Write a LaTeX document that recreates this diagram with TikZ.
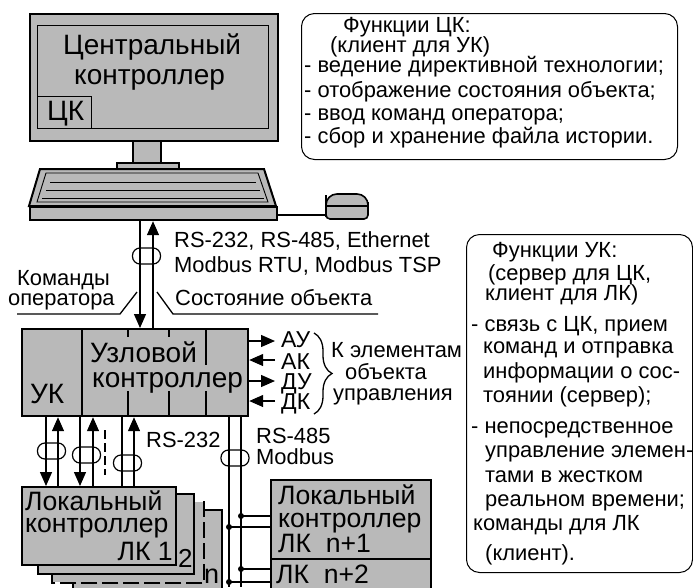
\documentclass[tikz,border=0pt]{standalone}
\usepackage{fontspec}
\setmainfont{Liberation Sans}
\usetikzlibrary{
	arrows.meta,
	calc,
	decorations.pathreplacing
}

\begin{document}
\begin{tikzpicture}[
			x=1pt,y=-1pt,
			gbox/.style={
				rectangle,
				draw,
				line width=2.2pt,
				fill=gray!55,
				inner sep=0pt,
				anchor=north west
			},
			stadium/.style={
				rectangle,
				draw,
				rounded corners=7.5pt,
				line width=1.2pt,
				minimum width=28pt,
				minimum height=16pt,
				inner sep=0pt
			},
			funcbox/.style={
				rectangle,
				draw,
				rounded corners=13pt,
				line width=1pt,
				inner sep=0pt,
				anchor=north west
			},
			big/.style={
				anchor=base west,
				inner sep=0pt,
				font=\fontsize{28pt}{30pt}\selectfont
			},
			lkfont/.style={
				big,
				font=\fontsize{26.6pt}{30pt}\selectfont
			},
			med/.style={
				anchor=base west,
				inner sep=0pt,
				font=\fontsize{21.9pt}{24pt}\selectfont
			},
			wire/.style={
				line width=1.3pt
			},
			arr/.style={
				line width=1.3pt,
				-{Triangle[length=14pt,width=12pt]}
			}
			]
			\useasboundingbox (0,0) rectangle (693,587);
			
			% monitor
			\node[gbox,minimum width=248pt,minimum height=127pt] (mon) at (29,13) {};
			\node[gbox,minimum width=231pt,minimum height=103pt,line width=1.3pt] (scr) at (37,25) {};
			\node[gbox,minimum width=54pt,minimum height=32pt,line width=1.3pt] (ck) at (37,96) {};
			\node[gbox,minimum width=28pt,minimum height=22pt,line width=1.6pt] (neck) at (132,140) {};
			\node[gbox,minimum width=62pt,minimum height=7pt,line width=1.6pt] (base) at (116,162) {};
			\node[big] (ctr1) at (63,54) {Центральный};
			\node[big] (ctr2) at (74,84) {контроллер};
			\node[big] (cklab) at (47,120) {ЦК};
			
			% keyboard
			\draw[line width=2pt,fill=gray!55] (29,206) -- (40,169) -- (264,169) -- (276,206) -- cycle;
			\draw[line width=0.9pt] (37,202) -- (46,173) -- (258,173) -- (268,202) -- cycle;
			\foreach \y/\xa/\xb in {182/50/256,190/46/260,198/42/264}
				\draw[line width=0.9pt] (\xa,\y) -- (\xb,\y);
			\node[gbox,minimum width=247pt,minimum height=13pt] (kbd) at (29,206) {};
			
			% mouse
			\coordinate (mp) at (326,215);
			\draw[line width=1.6pt,fill=gray!55] [rounded corners=4pt] (326,206) -- (326,219) -- (368,219) -- (368,206)
				[rounded corners=11pt] -- (368,194) -- (326,194) -- cycle;
			\draw[wire] (326,206) -- (368,206);
			\draw[wire] (kbd.east |- mp) -- (mp);
			
			% RS-232 etc
			\coordinate (cmd) at (140,0);
			\coordinate (sta) at (153,0);
			\node[gbox,minimum width=226pt,minimum height=87pt] (uk) at (21,328) {};
			\draw[arr] (kbd.south -| cmd) -- (uk.north -| cmd);
			\draw[arr] (uk.north -| sta) -- (kbd.south -| sta);
			\node[stadium] (st1) at (146.5,256) {};
			\node[med] (rs1) at (174,247) {RS-232, RS-485, Ethernet};
			\node[med] (rs2) at (174,272) {Modbus RTU, Modbus TSP};
			\node[med] (cmd1) at (17,285) {Команды};
			\node[med] (cmd2) at (8,305) {оператора};
			\node[med] (sta1) at (175,305) {Состояние объекта};
			\coordinate (c1) at (17,314);
			\coordinate (c2) at (120,314);
			\coordinate (c3) at (137,292);
			\coordinate (s1) at (157,292);
			\coordinate (s2) at (173,314);
			\coordinate (s3) at (378,314);
			\draw[wire] (c1) -- (c2) -- (c3);
			\draw[wire] (s1) -- (s2) -- (s3);
			
			% node controller
			\draw[wire] (82,328) -- (82,415);
			\foreach \x in {128,169,206}
				\draw[wire] (\x,328) -- (\x,337) (\x,391) -- (\x,415);
			\draw[wire] (206,337) -- (206,365);
			\node[big] (uz1) at (90,362) {Узловой};
			\node[big] (uz2) at (92,387) {контроллер};
			\node[big] (uklab) at (30,403) {УК};
			
			% signals
			\coordinate (ay) at (275,341);
			\coordinate (ak) at (275,360);
			\coordinate (dy) at (275,381);
			\coordinate (dk) at (275,401);
			\draw[arr] (uk.east |- ay) -- (ay);
			\draw[arr] (ak) -- (uk.east |- ak);
			\draw[arr] (uk.east |- dy) -- (dy);
			\draw[arr] (dk) -- (uk.east |- dk);
			\node[med,font=\fontsize{23pt}{24pt}\selectfont] (aylab) at (281,347) {АУ};
			\node[med,font=\fontsize{23pt}{24pt}\selectfont] (aklab) at (281,369) {АК};
			\node[med,font=\fontsize{23pt}{24pt}\selectfont] (dylab) at (281,389) {ДУ};
			\node[med,font=\fontsize{23pt}{24pt}\selectfont] (dklab) at (281,409) {ДК};
			\coordinate (br1) at (314,333);
			\coordinate (br2) at (314,414);
			\draw[wire,decorate,decoration={brace,amplitude=18pt}] (br1) -- (br2);
			\node[med] (el1) at (331,357) {К элементам};
			\node[med] (el2) at (345,379) {объекта};
			\node[med] (el3) at (333,400) {управления};
			
			% local controllers
			\node[gbox,minimum width=149pt,minimum height=90pt] (lkn) at (72,509) {};
			\node[gbox,minimum width=150pt,minimum height=80pt,draw=none] (lk3) at (52,501) {};
			\draw[line width=2pt,dash pattern=on 16pt off 5pt] (lk3.north east) -- (lk3.south east) -- (lk3.south west) -- (lk3.north west);
			\node[gbox,minimum width=156pt,minimum height=80pt] (lk2) at (37,493) {};
			\node[gbox,minimum width=154pt,minimum height=78pt] (lk1) at (21,486) {};
			\node[lkfont] (lk1a) at (25,510) {Локальный};
			\node[lkfont] (lk1b) at (25,532) {контроллер};
			\node[lkfont,anchor=base east] (lk1c) at (173,560) {ЛК 1};
			\node[big,font=\fontsize{26pt}{30pt}\selectfont] (lk2lab) at (178,567) {2};
			\node[big,font=\fontsize{27pt}{30pt}\selectfont] (lknlab) at (204,583) {n};
			
			% RS-232 links
			\coordinate (a1) at (46,0);
			\coordinate (a2) at (58,0);
			\coordinate (b1) at (80,0);
			\coordinate (b2) at (93,0);
			\coordinate (d1) at (122,0);
			\coordinate (d2) at (134,0);
			\draw[arr] (uk.south -| a1) -- (lk1.north -| a1);
			\draw[arr] (lk1.north -| a2) -- (uk.south -| a2);
			\draw[arr] (uk.south -| b1) -- (lk1.north -| b1);
			\draw[arr] (lk1.north -| b2) -- (uk.south -| b2);
			\draw[wire] (lk1.north -| d1) -- (uk.south -| d1);
			\draw[arr] (lk1.north -| d2) -- (uk.south -| d2);
			\coordinate (dash1) at (105,430);
			\coordinate (dash2) at (105,475);
			\draw[line width=1.8pt,dash pattern=on 9pt off 4pt] (dash1) -- (dash2);
			\node[stadium] (st2) at (51.5,451) {};
			\node[stadium] (st3) at (86.5,455) {};
			\node[stadium] (st4) at (127.5,463) {};
			\node[med] (rs232) at (146,447) {RS-232};
			
			% RS-485 bus
			\node[gbox,minimum width=160pt,minimum height=79pt] (lk3a) at (270,479) {};
			\node[gbox,minimum width=160pt,minimum height=40pt] (lk4) at (270,558) {};
			\coordinate (bus1) at (229,587);
			\coordinate (bus2) at (241,587);
			\draw[wire] (uk.south -| bus1) -- (bus1);
			\draw[wire] (uk.south -| bus2) -- (bus2);
			\node[stadium] (st5) at (235,458) {};
			\node[med] (rs485) at (256,443) {RS-485};
			\node[med] (mod) at (256,464) {Modbus};
			\foreach \nm/\x/\y in {j1/241/516,j2/229/527,j3/241/569,j4/229/582} {
				\fill (\x,\y) circle (3pt) coordinate (\nm);
				\draw[wire] (\nm) -- (lk3a.west |- \nm);
			}
			\node[lkfont] (lk3a1) at (278,504) {Локальный};
			\node[lkfont] (lk3a2) at (278,527) {контроллер};
			\node[lkfont] (lk3a3) at (278,552) {ЛК~~n+1};
			\node[lkfont] (lk4a) at (276,583) {ЛК~~n+2};
			
			% functions
			\node[funcbox,minimum width=376pt,minimum height=146pt] (fck) at (301,13) {};
			\foreach \i/\x/\y/\txt in {
				1/343/32/Функции ЦК:,
				2/330/52/(клиент для УК),
				3/304/72/- ведение директивной технологии;,
				4/304/97/- отображение состояния объекта;,
				5/304/120/- ввод команд оператора;,
				6/304/143/- сбор и хранение файла истории.}
				\node[med] (fck\i) at (\x,\y) {\txt};
			
			\node[funcbox,minimum width=226pt,minimum height=338pt] (fuk) at (466,234) {};
			\foreach \i/\x/\y/\txt in {
				1/492/257/Функции УК:,
				2/488/280/(сервер для ЦК{,},
				3/485/300/клиент для ЛК),
				4/471/331/- связь с ЦК{,} прием,
				5/483/353/команд и отправка,
				6/483/378/информации о сос-,
				7/483/402/тоянии (сервер);,
				8/471/433/- непосредственное,
				9/485/457/управление элемен-,
				10/485/482/тами в жестком,
				11/485/506/реальном времени;,
				12/473/530/команды для ЛК,
				13/485/560/(клиент).}
				\node[med] (fuk\i) at (\x,\y) {\txt};
			
		\end{tikzpicture}
\end{document}
